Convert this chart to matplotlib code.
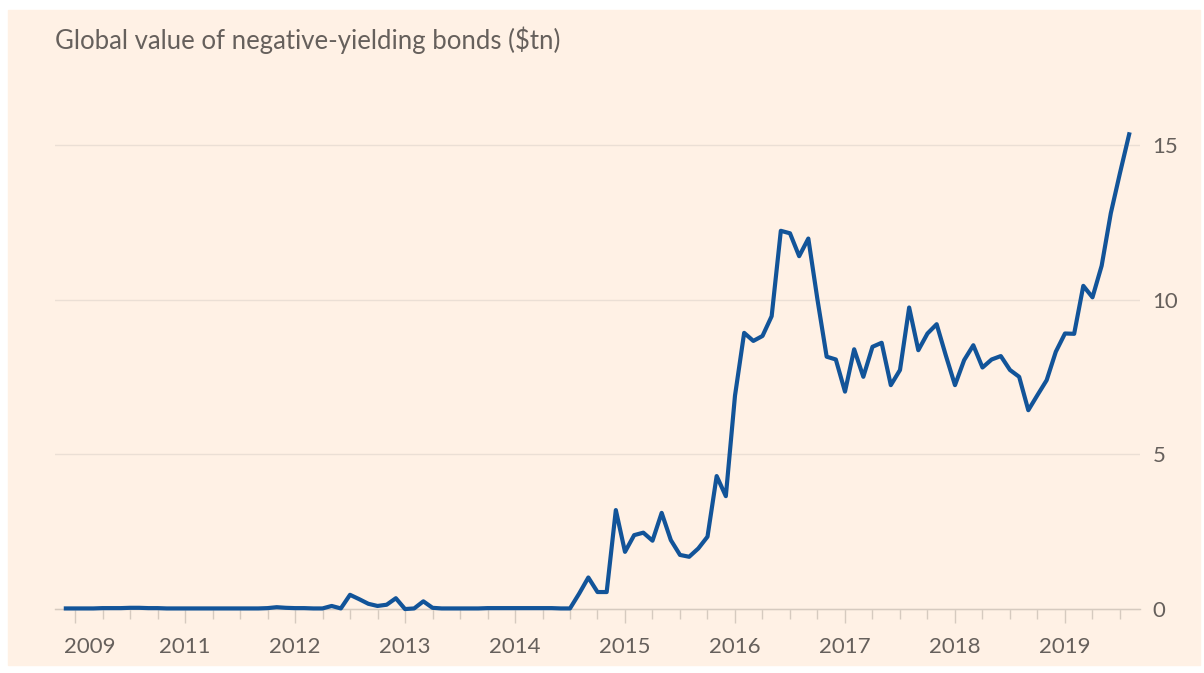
import numpy as np
import matplotlib.pyplot as plt
from matplotlib.patches import Rectangle
from matplotlib.ticker import FixedLocator, MultipleLocator
import matplotlib.transforms as mtransforms

plt.rcParams['font.family'] = ['Lato', 'DejaVu Sans']

# monthly series, Dec 2009 .. Aug 2019 ($tn)
start = 2009 + 11 / 12
vals_2009 = [0.02]
vals_2010 = [0.02, 0.02, 0.02, 0.03, 0.03, 0.03, 0.04, 0.04, 0.03, 0.03, 0.02, 0.02]
vals_2011 = [0.02, 0.02, 0.02, 0.02, 0.02, 0.02, 0.02, 0.02, 0.02, 0.03, 0.06, 0.04]
vals_2012 = [0.03, 0.03, 0.02, 0.02, 0.10, 0.02, 0.46, 0.32, 0.17, 0.10, 0.14, 0.35]
vals_2013 = [0.0, 0.02, 0.25, 0.04, 0.02, 0.02, 0.02, 0.02, 0.02, 0.03, 0.03, 0.03]
vals_2014 = [0.03, 0.03, 0.03, 0.03, 0.03, 0.02, 0.02, 0.5, 1.02, 0.55, 0.55, 3.2]
vals_2015 = [1.85, 2.39, 2.47, 2.21, 3.11, 2.23, 1.75, 1.69, 1.96, 2.34, 4.3, 3.65]
vals_2016 = [6.9, 8.93, 8.67, 8.83, 9.47, 12.23, 12.15, 11.41, 11.98, 10.0, 8.16, 8.07]
vals_2017 = [7.03, 8.4, 7.51, 8.48, 8.61, 7.24, 7.73, 9.75, 8.37, 8.91, 9.21, 8.2]
vals_2018 = [7.24, 8.05, 8.53, 7.81, 8.07, 8.18, 7.73, 7.51, 6.43, 6.92, 7.4, 8.32]
vals_2019 = [8.91, 8.9, 10.45, 10.08, 11.1, 12.8, 14.1, 15.35]

values = (vals_2009 + vals_2010 + vals_2011 + vals_2012 + vals_2013 + vals_2014
          + vals_2015 + vals_2016 + vals_2017 + vals_2018 + vals_2019)
dates = start + np.arange(len(values)) / 12

year_ticks = [2010, 2011, 2012, 2013, 2014, 2015, 2016, 2017, 2018, 2019]
year_labels = ['2009', '2011', '2012', '2013', '2014', '2015', '2016', '2017', '2018', '2019']
y_ticks = [0, 5, 10, 15]

title = 'Global value of negative-yielding bonds ($tn)'

bg = '#FFF1E5'
grey = '#66605C'

fig = plt.figure(figsize=(12.04, 6.73), dpi=100, facecolor='white')
fig.patches.append(Rectangle((8 / 1204, 8 / 673), 1192 / 1204, 655 / 673,
                             transform=fig.transFigure, color=bg, zorder=-10))

ax = fig.add_axes([55 / 1204, 59 / 673, 1085 / 1204, 514 / 673])
ax.set_facecolor('none')
ax.plot(dates, values, color='#125499', lw=3, solid_joinstyle='round', zorder=3)

ax.set_xlim(2009.818, 2019.682)
ax.set_ylim(-0.16, 16.46)

for s in ['top', 'left', 'right']:
    ax.spines[s].set_visible(False)
ax.spines['bottom'].set_position(('data', 0))
ax.spines['bottom'].set_color('#D6CABF')
ax.spines['bottom'].set_linewidth(1)

ax.xaxis.set_major_locator(FixedLocator(year_ticks))
ax.set_xticklabels(year_labels)
ax.xaxis.set_minor_locator(MultipleLocator(0.25))
ax.tick_params(axis='x', which='major', length=10, width=1, color='#D6CABF',
               labelsize=16, labelcolor=grey, pad=10)
ax.tick_params(axis='x', which='minor', length=7, width=1, color='#D6CABF')

# first label sits a little right of its tick in the original
lbl = ax.get_xticklabels()[0]
lbl.set_transform(lbl.get_transform() + mtransforms.ScaledTranslation(15 / 100, 0, fig.dpi_scale_trans))

ax.yaxis.tick_right()
ax.set_yticks(y_ticks)
ax.tick_params(axis='y', length=0, labelsize=16, labelcolor=grey, pad=9)
ax.grid(axis='y', color='#EBDFD5', lw=1)
ax.set_axisbelow(True)

fig.text(55 / 1204, 1 - 40 / 673, title, fontsize=18.5, color=grey, va='center', ha='left')

fig.savefig('out.png', dpi=100, facecolor=fig.get_facecolor())
